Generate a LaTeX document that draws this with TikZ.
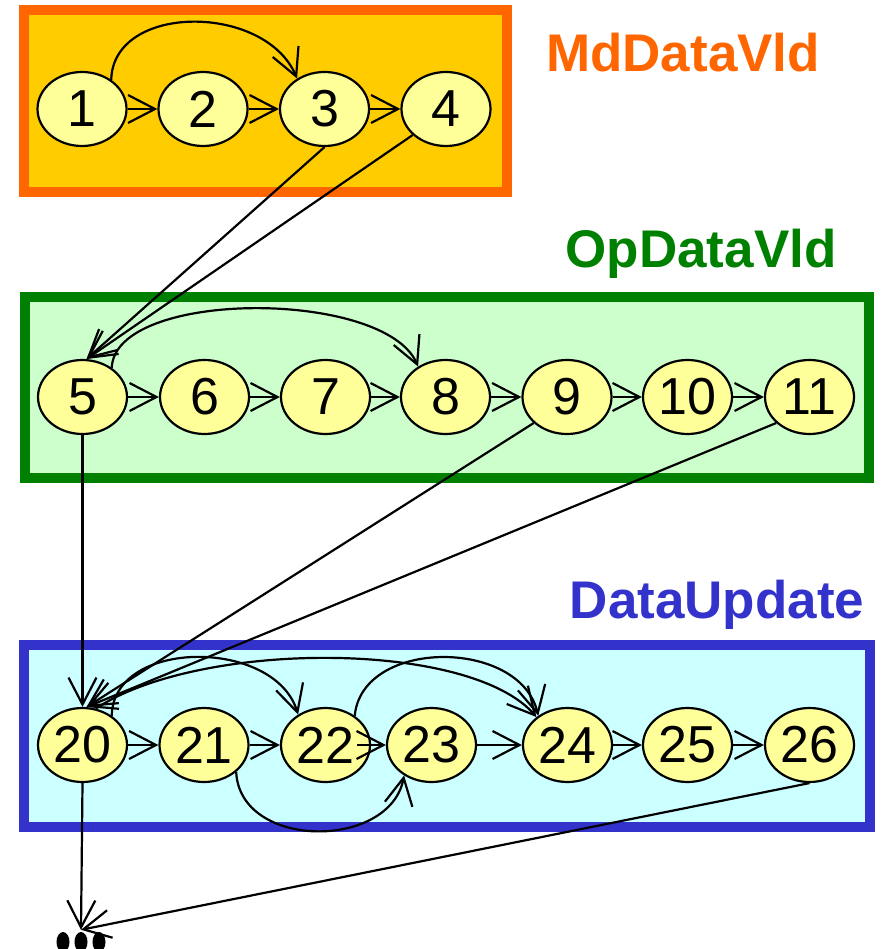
\documentclass[tikz,border=0pt]{standalone}
\usepackage{fontspec}
\setmainfont{Liberation Sans}
\usetikzlibrary{arrows.meta,shapes.geometric}
\definecolor{mdline}{HTML}{FF6600}
\definecolor{mdfill}{HTML}{FFCC00}
\definecolor{opline}{HTML}{008000}
\definecolor{opfill}{HTML}{CCFFCC}
\definecolor{duline}{HTML}{3333CC}
\definecolor{dufill}{HTML}{CCFFFF}
\definecolor{blockfill}{HTML}{FFFF99}
\begin{document}
\begin{tikzpicture}[x=1pt,y=1pt,
  blk/.style={ellipse, draw=black, line width=2.2pt, fill=blockfill,
    minimum width=89pt, minimum height=74pt, inner sep=0pt,
    font=\fontsize{52}{52}\selectfont},
  flow/.style={line width=2.2pt, -{Straight Barb[length=27pt,width=28pt]}},
  grp/.style={line width=10pt},
  title/.style={font=\fontsize{53}{53}\selectfont\bfseries, anchor=base}]
\useasboundingbox (0,0) rectangle (883,-949);

% group frames
\draw[grp, draw=mdline, fill=mdfill] (24,-10.5) rectangle (507,-192);
\draw[grp, draw=opline, fill=opfill] (25,-297) rectangle (869,-478);
\draw[grp, draw=duline, fill=dufill] (24,-645) rectangle (870,-827);

% group titles
\node[title, text=mdline] (mdtitle) at (683,-72) {MdDataVld};
\node[title, text=opline] (optitle) at (701,-268) {OpDataVld};
\node[title, text=duline] (dutitle) at (717,-618) {DataUpdate};

% basic blocks
\node[blk] (n1) at (82,-109) {1};
\node[blk] (n2) at (203,-109) {2};
\node[blk] (n3) at (324.5,-109) {3};
\node[blk] (n4) at (446,-109) {4};

\node[blk] (n5) at (82.5,-397) {5};
\node[blk] (n6) at (204.5,-397) {6};
\node[blk] (n7) at (325.5,-397) {7};
\node[blk] (n8) at (445.5,-397) {8};
\node[blk] (n9) at (567,-397) {9};
\node[blk] (n10) at (687.5,-397) {10};
\node[blk] (n11) at (809.5,-397) {11};

\node[blk] (n20) at (82.5,-745) {20};
\node[blk] (n21) at (204,-745) {21};
\node[blk] (n22) at (325.5,-745) {22};
\node[blk] (n23) at (431.5,-745) {23};
\node[blk] (n24) at (567.5,-745) {24};
\node[blk] (n25) at (687.5,-745) {25};
\node[blk] (n26) at (809.5,-745) {26};

% continuation marker
\node[inner sep=0pt, minimum width=50pt, minimum height=24pt] (dots) at (81,-942) {};
\fill ([xshift=-18pt]dots.center) ellipse [x radius=6.5, y radius=10];
\fill (dots.center) ellipse [x radius=6.5, y radius=10];
\fill ([xshift=18pt]dots.center) ellipse [x radius=6.5, y radius=10];

% MdDataVld edges
\draw[flow] (n1) -- (n2);
\draw[flow] (n2) -- (n3);
\draw[flow] (n3) -- (n4);
\draw[flow] (n1.45) .. controls (113,-3) and (265,-3) .. (n3.132);
\draw[flow] (n3.south) -- (n5.84);
\draw[flow] (n4.218) -- (n5.84);

% OpDataVld edges
\draw[flow] (n5) -- (n6);
\draw[flow] (n6) -- (n7);
\draw[flow] (n7) -- (n8);
\draw[flow] (n8) -- (n9);
\draw[flow] (n9) -- (n10);
\draw[flow] (n10) -- (n11);
\draw[flow] (n5.45) .. controls (115,-289) and (385,-289) .. (n8.132);
\draw[flow] (n5.south) -- (n20.north);
\draw[flow] (n9.218) -- (n20.84);
\draw[flow] (n11.218) -- (n20.84);

% DataUpdate edges
\draw[flow] (n20) -- (n21);
\draw[flow] (n21) -- (n22);
\draw[flow] ([xshift=-14pt]n22.east) -- (n23.west);
\draw[flow] (n23) -- (n24);
\draw[flow] (n24) -- (n25);
\draw[flow] (n25) -- (n26);
\draw[flow] (n20.45) .. controls (113,-638) and (275,-638) .. (n22.132);
\draw[flow] (n20.70) .. controls (200,-640) and (470,-640) .. (n24.138);
\draw[flow] (n22.45) .. controls (362,-638) and (520,-638) .. (n24.135);
\draw[flow] (n21.-40) .. controls (240,-850) and (390,-850) .. (n23.228);
\draw[flow] (n20.south) -- (dots.north);
\draw[flow] (n26.south) -- (dots.north);
\end{tikzpicture}
\end{document}
